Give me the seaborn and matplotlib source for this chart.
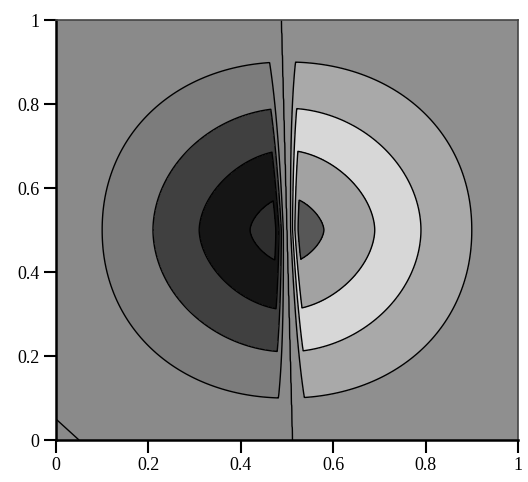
import numpy as np
import matplotlib
matplotlib.use("Agg")
import matplotlib.pyplot as plt
import seaborn as sns

# 数据：等值线半径（以中心 (0.5, 0.5) 为圆心）和各色带灰度
ring_radii = [0.08, 0.19, 0.29, 0.40]          # 由内向外
left_shades = ["#2e2e2e", "#151515", "#404040", "#7c7c7c", "#8a8a8a"]   # 左半：内 -> 外
right_shades = ["#8f8f8f", "#a9a9a9", "#d7d7d7", "#a2a2a2", "#575757"]  # 右半：外 -> 内
strip_half = 0.028        # 中间跳变带的半宽
mid_top, mid_bottom = 0.488, 0.512   # 中间分界线在上、下边的位置
corner_cut = 0.05         # 左下角短线 x + y = 0.05
tick_values = [0, 0.2, 0.4, 0.6, 0.8, 1]
tick_labels = ["0", "0.2", "0.4", "0.6", "0.8", "1"]

sns.set_style("ticks")
plt.rcParams['font.family'] = ['Liberation Serif', 'DejaVu Serif']

# 网格上的场：左负右正，中间带内跳变
X, Y = np.meshgrid(np.linspace(0, 1, 801), np.linspace(0, 1, 401))
de = np.hypot(X - 0.5, Y - 0.5)
p = 1.5 + 1.5 * de
d = (np.abs(X - 0.5) ** p + np.abs(Y - 0.5) ** p) ** (1 / p)
x0 = mid_bottom + (mid_top - mid_bottom) * Y
u = np.clip((X - x0) / strip_half, -1, 1)
Z = (1 - d) * np.sign(u) * np.abs(u) ** 0.4

left_levels = [-1.01] + [-(1 - r) for r in ring_radii]
right_levels = [1 - r for r in ring_radii[::-1]] + [1.01]
levels = left_levels + [0] + right_levels
colors = left_shades + right_shades

fig = plt.figure(figsize=(5.28, 4.82), dpi=100)
ax = fig.add_axes([0.106, 0.087, 0.875, 0.8715])

ax.contourf(X, Y, Z, levels=levels, colors=colors)
ax.contour(X, Y, Z, levels=levels[1:-1], colors="black", linewidths=1.0,
           linestyles="solid")
ax.contour(X, Y, X + Y, levels=[corner_cut], colors="black", linewidths=1.0)

ax.set_xlim(0, 1)
ax.set_ylim(0, 1)
ax.set_xticks(tick_values)
ax.set_xticklabels(tick_labels)
ax.set_yticks(tick_values)
ax.set_yticklabels(tick_labels)
ax.tick_params(direction="out", length=9, width=1.5, labelsize=13, colors="black")
ax.tick_params(axis="x", pad=3)
ax.tick_params(axis="y", pad=3)

# 边框：左、下粗黑，上、右细灰
for side in ["left", "bottom"]:
    ax.spines[side].set_linewidth(1.8)
    ax.spines[side].set_color("black")
for side in ["top", "right"]:
    ax.spines[side].set_visible(True)
    ax.spines[side].set_linewidth(1.2)
    ax.spines[side].set_color("#444444")

fig.savefig("out.png", dpi=100)
